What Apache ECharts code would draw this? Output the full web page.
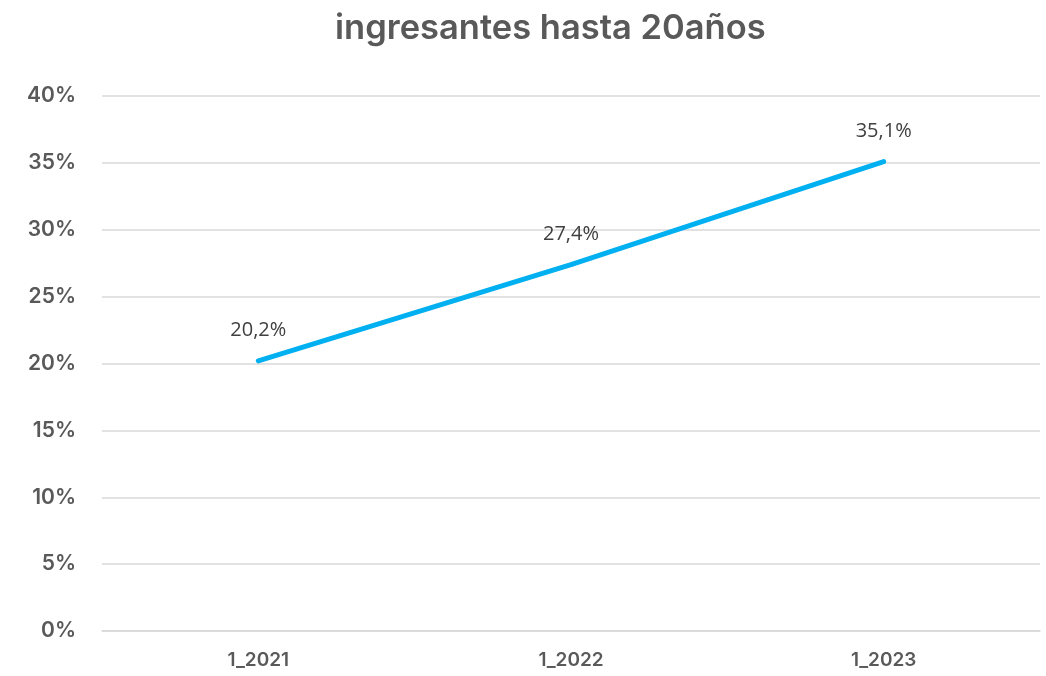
<!DOCTYPE html>
<html>
<head>
<meta charset="utf-8">
<script src="https://cdn.jsdelivr.net/npm/echarts@6/dist/echarts.min.js"></script>
<style>html,body{margin:0;padding:0;background:#fff}#c{width:1046px;height:676px}</style>
</head>
<body>
<div id="c"></div>
<script>
const categories = ['1_2021', '1_2022', '1_2023'];
const values = [20.2, 27.4, 35.1];
const titleText = 'ingresantes hasta 20años';

const chart = echarts.init(document.getElementById('c'));
chart.setOption({
  animation: false,
  title: {
    text: titleText, left: 330, top: 6,
    textStyle: { fontFamily: 'Inter', fontWeight: 600, fontSize: 34.5, color: '#595959' }
  },
  grid: { left: 102, right: 6, top: 96, bottom: 45 },
  xAxis: {
    type: 'category', data: categories,
    axisLine: { show: true, lineStyle: { color: '#d9d9d9', width: 1.5 } },
    axisTick: { show: false },
    axisLabel: { margin: 20, fontFamily: 'Inter', fontWeight: 600, fontSize: 19, color: '#595959' }
  },
  yAxis: {
    type: 'value', min: 0, max: 40, interval: 5,
    axisLine: { show: false }, axisTick: { show: false },
    splitLine: { lineStyle: { color: '#d9d9d9', width: 1.5 } },
    axisLabel: { margin: 26, formatter: '{value}%', fontFamily: 'Inter', fontWeight: 600, fontSize: 21, color: '#595959' }
  },
  series: [{
    type: 'line', data: values, symbol: 'circle', symbolSize: 1, showSymbol: true,
    itemStyle: { opacity: 0 },
    lineStyle: { color: '#00B0F0', width: 5, cap: 'round' },
    label: {
      show: true, position: 'top', distance: 20,
      formatter: p => p.value.toFixed(1).replace('.', ',') + '%',
      fontFamily: 'Open Sans', fontSize: 20, color: '#404040', opacity: 1
    }
  }]
});
</script>
</body>
</html>
